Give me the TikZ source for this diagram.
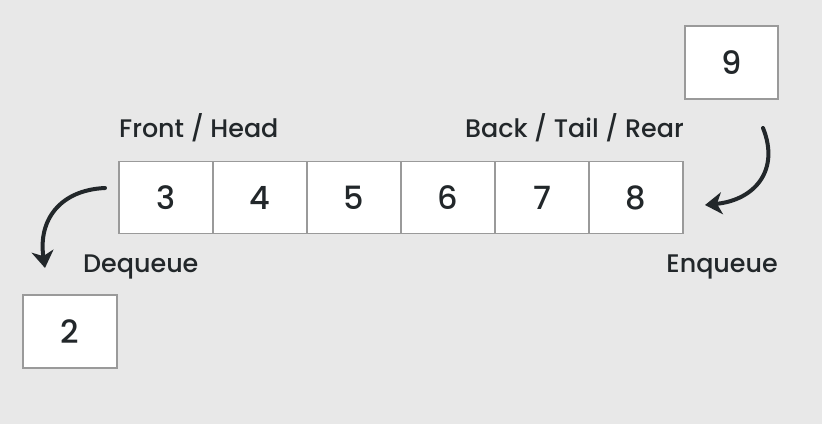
\documentclass[tikz,border=0pt]{standalone}
\usepackage{fontspec}
\setmainfont{Poppins Medium}
\usetikzlibrary{arrows.meta}
\definecolor{bgcol}{HTML}{E8E8E8}
\definecolor{inkcol}{HTML}{22272A}
\definecolor{rimcol}{HTML}{9A9A9A}

\begin{document}
\begin{tikzpicture}[x=1pt, y=-1pt, >=Stealth,
    cell/.style={draw=rimcol, line width=1.5pt, fill=white, minimum width=94pt,
                 minimum height=72pt, inner sep=0pt, text=inkcol, font=\fontsize{32}{32}\selectfont},
    tag/.style={inner sep=0pt, text=inkcol, font=\fontsize{25.4}{25.4}\selectfont},
    curvy/.style={draw=inkcol, line width=4pt, line cap=round,
                 -{Stealth[length=17pt, width=22pt, inset=5pt]}}]
        \fill [bgcol] (0,0) rectangle (822,424);
        \useasboundingbox (0,0) rectangle (822,424);
        % queue cells
        \foreach \v [count=\i from 0] in {3,4,5,6,7,8}
            \node [cell] (c\v) at (166+94*\i, 197.5) {\v};
        \node [cell, minimum width=93pt, minimum height=73pt] (in) at (731.5, 62.5) {9};
        \node [cell, minimum height=73pt] (out) at (70, 331.5) {2};
        % labels
        \node [tag, anchor=base west] (front) at (119, 137) {Front / Head};
        \node [tag, anchor=base east] (rear) at (684, 137) {Back / Tail / Rear};
        \node [tag, anchor=base west] (deq) at (83, 272) {Dequeue};
        \node [tag, anchor=base east] (enq) at (778, 272) {Enqueue};
        % arrows
        \coordinate (deq from) at (105, 188);
        \coordinate (deq to) at (45, 268);
        \coordinate (enq from) at (763, 128);
        \coordinate (enq to) at (705, 205);
        \draw [curvy] (deq from) .. controls (60, 190) and (38, 220) .. (deq to);
        \draw [curvy] (enq from) .. controls (780, 170) and (755, 200) .. (enq to);
\end{tikzpicture}
\end{document}
